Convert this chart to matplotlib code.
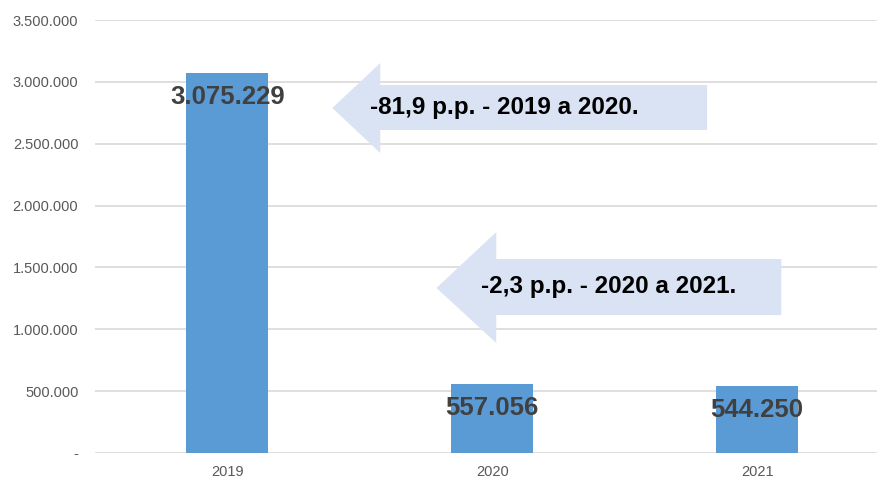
import matplotlib
matplotlib.use('Agg')
import matplotlib.pyplot as plt
from matplotlib.patches import Polygon
from matplotlib.ticker import FuncFormatter
import numpy as np

years = ['2019', '2020', '2021']
values = [3075229, 557056, 544250]
value_labels = ['3.075.229', '557.056', '544.250']
y_ticks = [0, 500000, 1000000, 1500000, 2000000, 2500000, 3000000, 3500000]
notes = ['-81,9 p.p. - 2019 a 2020.', '-2,3 p.p. - 2020 a 2021.']

plt.rcParams['font.family'] = ['Liberation Sans', 'DejaVu Sans']

fig = plt.figure(figsize=(8.78, 4.8), dpi=100)
ax = fig.add_axes([0.1082, 0.0563, 0.905, 0.902])

x = np.arange(len(years))
bars = ax.bar(x, values, width=0.31, color='#5B9BD5', zorder=2)

# value labels just inside the top of each bar
for b, lab in zip(bars, value_labels):
    ax.annotate(lab, (b.get_x() + b.get_width() / 2, b.get_height()),
                xytext=(0, -24), textcoords='offset pixels',
                ha='center', va='center', fontsize=18.5, fontweight='bold',
                color='#404040', zorder=4)


def fmt(v, pos):
    if v == 0:
        return '-'
    return '{:,.0f}'.format(v).replace(',', '.')


ax.set_ylim(0, 3500000)
ax.set_xlim(-0.5, 2.5)
ax.set_yticks(y_ticks)
ax.yaxis.set_major_formatter(FuncFormatter(fmt))
ax.set_xticks(x)
ax.set_xticklabels(years)
ax.tick_params(axis='both', length=0, labelsize=10.5, colors='#595959')
ax.tick_params(axis='y', pad=12)
ax.tick_params(axis='x', pad=9)
ax.grid(axis='y', color='#D9D9D9', linewidth=1.2, zorder=0)
for s in ax.spines.values():
    s.set_visible(False)


# arrows: (tip_x, head_base_x, end_x, tip_y, head_top, head_bot, shaft_top, shaft_bot)
arrows = [
    (0.396, 0.577, 1.811, 2789000, 3152000, 2425000, 2975000, 2611000),
    (0.789, 1.015, 2.091, 1334000, 1786000, 889000, 1568000, 1115000),
]
text_pos = [(1.045, 2789000), (1.438, 1342000)]

for (tx, bx, ex, ty, ht, hb, st, sb), note, (nx, ny) in zip(arrows, notes, text_pos):
    pts = [(tx, ty), (bx, ht), (bx, st), (ex, st), (ex, sb), (bx, sb), (bx, hb)]
    ax.add_patch(Polygon(pts, closed=True, facecolor='#DAE3F3', edgecolor='none',
                         zorder=3, clip_on=False))
    ax.text(nx, ny, note, ha='center', va='center', fontsize=17.5,
            fontweight='bold', color='black', zorder=4)

plt.savefig('out.png', dpi=100)
